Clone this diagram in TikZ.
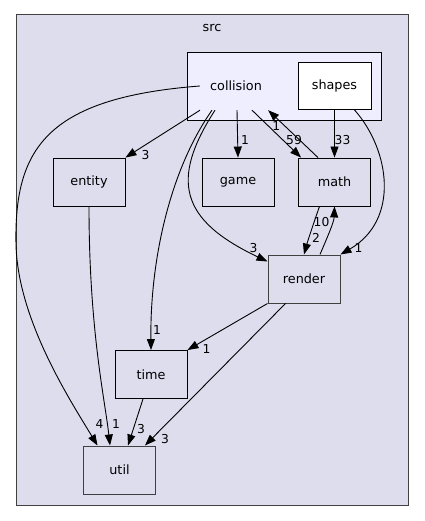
\documentclass[tikz,border=0pt]{standalone}
\usepackage{fontspec}
\setmainfont{DejaVu Sans}
\usepackage{tikz}
\usetikzlibrary{arrows.meta}
\definecolor{srcbg}{HTML}{DDDDEE}
\definecolor{collbg}{HTML}{EEEEFF}
\definecolor{edgegray}{HTML}{404040}
\newcommand{\dirfont}{\fontsize{12.8}{15}\selectfont}
\newcommand{\cntfont}{\fontsize{12.3}{14}\selectfont}

\begin{document}
\begin{tikzpicture}[x=1pt,y=-1pt,
    dirbox/.style={draw=black,fill=srcbg,line width=0.9pt,minimum width=72pt,minimum height=48pt,inner sep=0pt,font=\dirfont},
    dep/.style={-{Triangle[length=11pt,width=8pt]},black,line width=0.9pt},
    cnt/.style={font=\cntfont,inner sep=0pt}]
    \useasboundingbox (0,0) rectangle (424,521);
    \draw[edgegray,fill=srcbg,line width=1pt] (16,15) rectangle (408,505);
    \node[font=\dirfont] (src) at (212,28) {src};
    \draw[black,fill=collbg,line width=0.9pt] (187,52) rectangle (381,120);

    \node[font=\dirfont,minimum width=72pt,minimum height=48pt,inner sep=0pt] (collision) at (236,86) {collision};
    \node[dirbox,fill=white,minimum width=73pt,minimum height=47pt] (shapes) at (334.5,86) {shapes};
    \node[dirbox] (entity) at (89,182) {entity};
    \node[dirbox] (game) at (238,182) {game};
    \node[dirbox] (math) at (334.5,182) {math};
    \node[dirbox,draw=edgegray,line width=1pt] (render) at (304,279) {render};
    \node[dirbox] (time) at (151,374.5) {time};
    \node[dirbox,draw=edgegray,line width=1pt] (util) at (119.5,470) {util};

    % curved dependencies
    \draw[dep] (collision.west) .. controls (45,98) and (14,150) .. (16,245)
        .. controls (18,320) and (70,400) .. ([xshift=-22pt]util.north)
        node[cnt,at end,xshift=2pt,yshift=21pt] {4};
    \draw[dep] (entity.south) .. controls (89,330) and (105,400) .. ([xshift=-9.5pt]util.north)
        node[cnt,at end,xshift=6pt,yshift=21pt] {1};
    \draw[dep] ([xshift=-24pt]collision.south) .. controls (170,170) and (150,260) .. (time.north)
        node[cnt,at end,xshift=6pt,yshift=20pt] {1};
    \draw[dep] ([xshift=-21pt]collision.south) .. controls (170,180) and (180,220) .. ([yshift=-7pt]render.north west)
        node[cnt,at end,xshift=-14pt,yshift=13pt] {3};
    \draw[dep] ([xshift=20pt]shapes.south) .. controls (390,150) and (400,220) .. (render.north east)
        node[cnt,at end,xshift=18pt,yshift=6pt] {1};
    \draw[dep] ([xshift=-15pt]math.south) .. controls (314,222) and (308,240) .. (render.north)
        node[cnt,at end,xshift=12pt,yshift=17pt] {2};
    \draw[dep] ([xshift=16pt]render.north) .. controls (327,238) and (334,222) .. (math.south)
        node[cnt,at end,xshift=-13pt,yshift=-16pt] {10};

    % straight dependencies
    \path[every node/.style={cnt}]
    ([xshift=-36pt]collision.south) [dep] edge node [at end,xshift=20pt,yshift=3pt]{3} (entity.north east)
    ([xshift=1pt]collision.south) [dep] edge node [at end,xshift=7pt,yshift=18pt]{1} (game.north)
    ([xshift=16pt]collision.south) [dep] edge node [at end,xshift=-7pt,yshift=18pt]{59} ([xshift=3pt]math.north west)
    ([xshift=-16.5pt]math.north) [dep] edge node [at end,xshift=8pt,yshift=-16pt]{1} ([xshift=-4pt]collision.south east)
    (shapes.south) [dep] edge node [at end,xshift=8pt,yshift=18pt]{33} (math.north)
    (render.south west) [dep] edge node [at end,xshift=19pt,yshift=1pt]{1} (time.north east)
    ([xshift=18pt]render.south west) [dep] edge node [at end,xshift=20pt,yshift=6pt]{3} ([xshift=25.5pt]util.north)
    ([xshift=-8pt]time.south) [dep] edge node [at end,xshift=13pt,yshift=16pt]{3} ([xshift=8.5pt]util.north);
\end{tikzpicture}
\end{document}
